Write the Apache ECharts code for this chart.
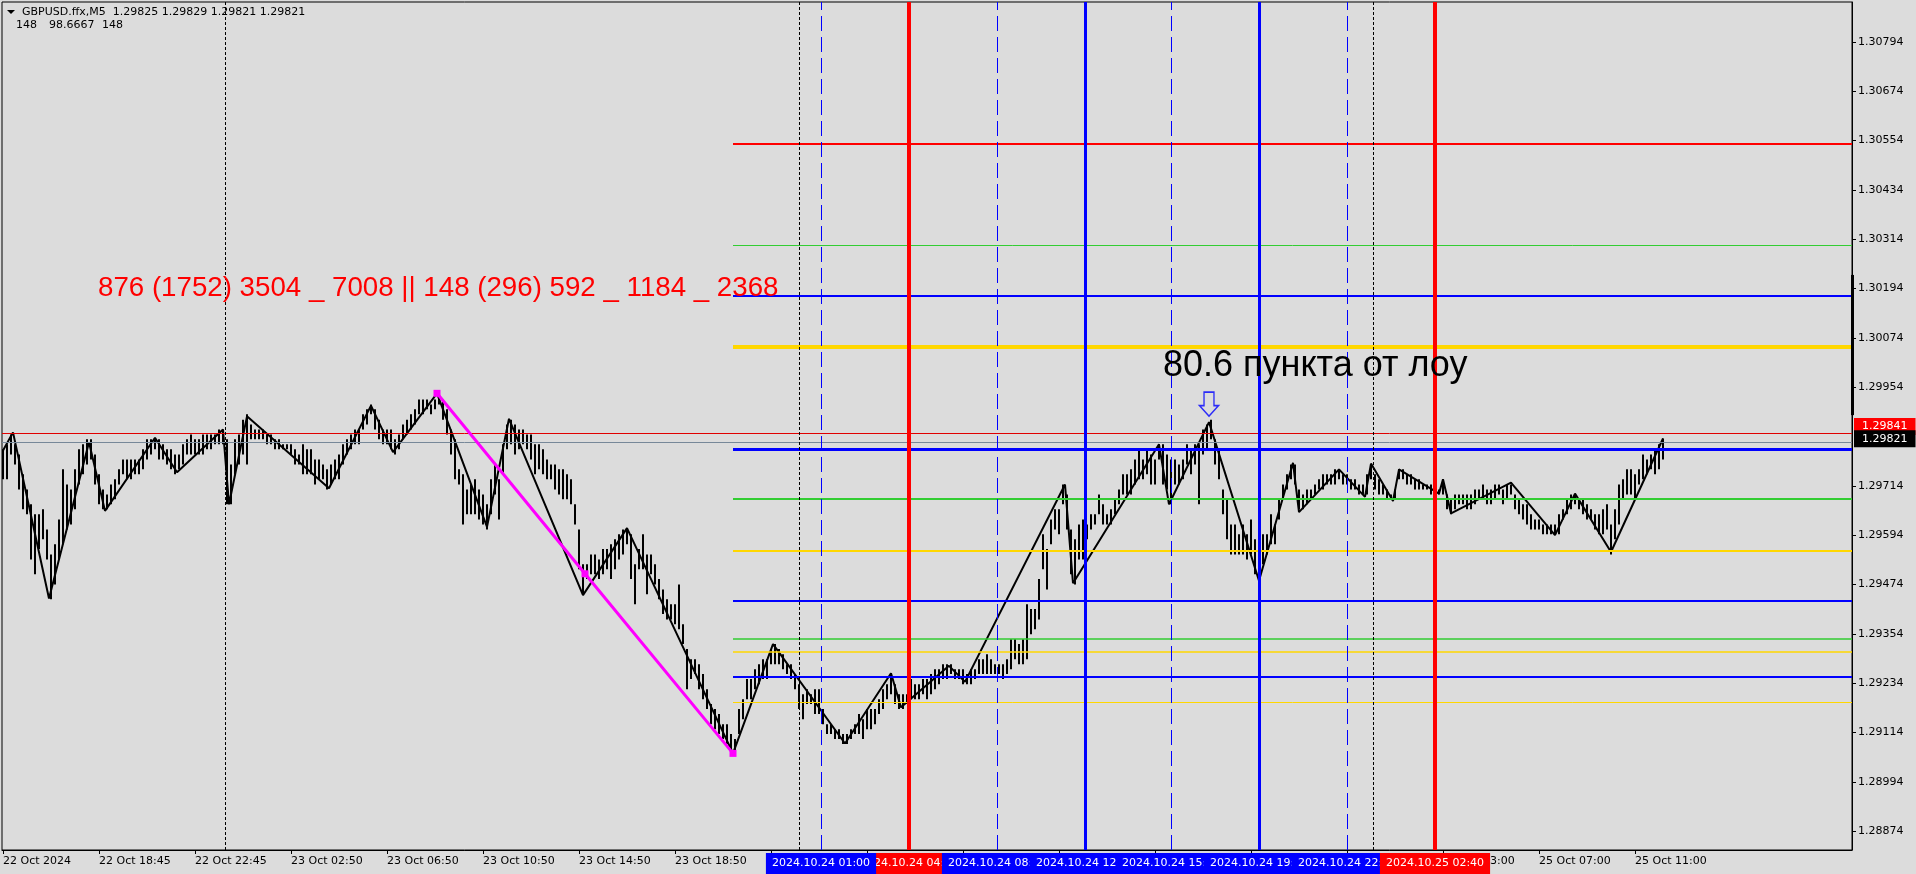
<!DOCTYPE html>
<html><head><meta charset="utf-8">
<script src="https://cdn.jsdelivr.net/npm/echarts@6.0.0/dist/echarts.min.js"></script>
<style>html,body{margin:0;padding:0;background:#DCDCDC;overflow:hidden}#c{width:1916px;height:874px}</style>
</head><body><div id="c"></div>
<script>
// ---------- data ----------
const barStep = 2; // bars sampled every 2nd M5 slot
const barHigh = [
1.29803,1.29815,1.29839,1.29815,1.29790,1.29742,1.29705,1.29669,1.29645,1.29645,
1.29657,1.29608,1.29547,1.29572,1.29632,1.29754,1.29717,1.29705,1.29754,1.29803,
1.29815,1.29827,1.29827,1.29790,1.29742,1.29705,1.29693,1.29717,1.29730,1.29754,
1.29778,1.29778,1.29778,1.29778,1.29778,1.29803,1.29827,1.29827,1.29827,1.29827,
1.29815,1.29803,1.29803,1.29790,1.29790,1.29815,1.29827,1.29839,1.29827,1.29827,
1.29839,1.29839,1.29839,1.29839,1.29851,1.29851,1.29827,1.29766,1.29827,1.29839,
1.29875,1.29888,1.29863,1.29851,1.29851,1.29851,1.29839,1.29839,1.29827,1.29827,
1.29815,1.29815,1.29815,1.29803,1.29790,1.29815,1.29803,1.29803,1.29778,1.29778,
1.29766,1.29754,1.29766,1.29778,1.29790,1.29815,1.29827,1.29839,1.29851,1.29851,
1.29888,1.29900,1.29912,1.29900,1.29875,1.29851,1.29851,1.29851,1.29827,1.29839,
1.29863,1.29875,1.29888,1.29900,1.29924,1.29924,1.29924,1.29912,1.29924,1.29936,
1.29924,1.29900,1.29851,1.29827,1.29754,1.29742,1.29705,1.29717,1.29730,1.29705,
1.29693,1.29669,1.29730,1.29766,1.29730,1.29815,1.29863,1.29875,1.29863,1.29851,
1.29851,1.29839,1.29839,1.29815,1.29815,1.29803,1.29778,1.29766,1.29766,1.29754,
1.29754,1.29742,1.29730,1.29669,1.29608,1.29523,1.29523,1.29547,1.29547,1.29535,
1.29560,1.29560,1.29572,1.29584,1.29596,1.29608,1.29608,1.29596,1.29523,1.29560,
1.29596,1.29547,1.29547,1.29523,1.29487,1.29462,1.29438,1.29426,1.29426,1.29474,
1.29377,1.29317,1.29292,1.29292,1.29280,1.29256,1.29219,1.29183,1.29171,1.29159,
1.29134,1.29134,1.29110,1.29098,1.29171,1.29195,1.29244,1.29244,1.29268,1.29280,
1.29292,1.29292,1.29317,1.29329,1.29317,1.29304,1.29280,1.29280,1.29256,1.29231,
1.29207,1.29219,1.29207,1.29219,1.29219,1.29171,1.29134,1.29134,1.29122,1.29122,
1.29110,1.29110,1.29122,1.29134,1.29159,1.29146,1.29171,1.29171,1.29171,1.29195,
1.29219,1.29231,1.29256,1.29231,1.29207,1.29207,1.29207,1.29244,1.29231,1.29231,
1.29244,1.29244,1.29256,1.29268,1.29268,1.29280,1.29280,1.29280,1.29268,1.29268,
1.29268,1.29256,1.29268,1.29268,1.29292,1.29292,1.29304,1.29292,1.29280,1.29280,
1.29280,1.29292,1.29341,1.29341,1.29329,1.29341,1.29426,1.29414,1.29414,1.29487,
1.29596,1.29560,1.29632,1.29657,1.29657,1.29717,1.29693,1.29608,1.29584,1.29620,
1.29632,1.29620,1.29645,1.29645,1.29693,1.29669,1.29645,1.29657,1.29681,1.29705,
1.29742,1.29742,1.29754,1.29778,1.29803,1.29778,1.29803,1.29790,1.29778,1.29815,
1.29815,1.29790,1.29778,1.29778,1.29766,1.29778,1.29815,1.29803,1.29815,1.29815,
1.29851,1.29863,1.29875,1.29827,1.29803,1.29705,1.29681,1.29620,1.29620,1.29596,
1.29620,1.29596,1.29632,1.29584,1.29547,1.29596,1.29596,1.29645,1.29620,1.29681,
1.29717,1.29742,1.29766,1.29766,1.29705,1.29693,1.29705,1.29705,1.29717,1.29730,
1.29742,1.29742,1.29742,1.29754,1.29754,1.29742,1.29742,1.29730,1.29730,1.29717,
1.29717,1.29742,1.29766,1.29742,1.29730,1.29717,1.29705,1.29693,1.29705,1.29754,
1.29754,1.29742,1.29742,1.29730,1.29730,1.29717,1.29717,1.29717,1.29705,1.29705,
1.29730,1.29693,1.29681,1.29693,1.29693,1.29693,1.29693,1.29693,1.29705,1.29705,
1.29717,1.29705,1.29705,1.29717,1.29717,1.29705,1.29717,1.29717,1.29693,1.29681,
1.29669,1.29669,1.29645,1.29632,1.29632,1.29620,1.29620,1.29620,1.29620,1.29645,
1.29657,1.29681,1.29693,1.29693,1.29681,1.29681,1.29669,1.29657,1.29645,1.29645,
1.29657,1.29669,1.29620,1.29657,1.29717,1.29730,1.29754,1.29754,1.29742,1.29754,
1.29790,1.29778,1.29790,1.29803,1.29815,1.29829];
const barLow = [
1.29730,1.29730,1.29790,1.29766,1.29705,1.29657,1.29645,1.29535,1.29499,1.29560,
1.29584,1.29535,1.29438,1.29474,1.29535,1.29572,1.29608,1.29620,1.29657,1.29717,
1.29742,1.29766,1.29778,1.29717,1.29669,1.29657,1.29657,1.29669,1.29681,1.29717,
1.29742,1.29730,1.29730,1.29742,1.29742,1.29754,1.29778,1.29790,1.29803,1.29778,
1.29778,1.29766,1.29754,1.29742,1.29754,1.29766,1.29790,1.29790,1.29790,1.29790,
1.29790,1.29803,1.29803,1.29815,1.29815,1.29815,1.29669,1.29669,1.29742,1.29766,
1.29790,1.29766,1.29827,1.29827,1.29827,1.29827,1.29815,1.29815,1.29803,1.29803,
1.29803,1.29803,1.29790,1.29766,1.29766,1.29742,1.29742,1.29742,1.29717,1.29730,
1.29730,1.29705,1.29717,1.29730,1.29730,1.29766,1.29790,1.29803,1.29815,1.29815,
1.29851,1.29863,1.29888,1.29851,1.29827,1.29815,1.29815,1.29803,1.29790,1.29803,
1.29827,1.29839,1.29851,1.29863,1.29888,1.29888,1.29900,1.29888,1.29900,1.29912,
1.29875,1.29839,1.29790,1.29730,1.29717,1.29620,1.29645,1.29645,1.29645,1.29632,
1.29620,1.29608,1.29645,1.29693,1.29632,1.29742,1.29803,1.29815,1.29790,1.29803,
1.29815,1.29803,1.29778,1.29742,1.29754,1.29742,1.29730,1.29730,1.29705,1.29693,
1.29681,1.29681,1.29669,1.29620,1.29511,1.29450,1.29487,1.29499,1.29499,1.29487,
1.29499,1.29511,1.29487,1.29511,1.29535,1.29547,1.29572,1.29487,1.29426,1.29511,
1.29511,1.29450,1.29499,1.29474,1.29438,1.29402,1.29389,1.29389,1.29377,1.29365,
1.29329,1.29219,1.29244,1.29256,1.29219,1.29195,1.29171,1.29134,1.29122,1.29110,
1.29098,1.29086,1.29074,1.29061,1.29110,1.29146,1.29195,1.29195,1.29219,1.29231,
1.29244,1.29244,1.29280,1.29280,1.29280,1.29268,1.29256,1.29244,1.29219,1.29171,
1.29146,1.29183,1.29183,1.29159,1.29159,1.29134,1.29110,1.29110,1.29098,1.29098,
1.29086,1.29086,1.29098,1.29110,1.29110,1.29098,1.29122,1.29122,1.29134,1.29159,
1.29171,1.29195,1.29207,1.29183,1.29171,1.29171,1.29183,1.29195,1.29195,1.29195,
1.29207,1.29195,1.29207,1.29219,1.29231,1.29244,1.29244,1.29256,1.29244,1.29244,
1.29231,1.29231,1.29231,1.29244,1.29256,1.29256,1.29256,1.29256,1.29256,1.29256,
1.29244,1.29256,1.29268,1.29292,1.29280,1.29280,1.29292,1.29353,1.29365,1.29389,
1.29511,1.29462,1.29572,1.29608,1.29596,1.29669,1.29608,1.29499,1.29474,1.29535,
1.29535,1.29584,1.29608,1.29620,1.29645,1.29620,1.29620,1.29620,1.29645,1.29669,
1.29693,1.29693,1.29693,1.29717,1.29730,1.29730,1.29742,1.29717,1.29717,1.29778,
1.29717,1.29705,1.29669,1.29717,1.29717,1.29730,1.29766,1.29742,1.29766,1.29669,
1.29790,1.29803,1.29827,1.29766,1.29730,1.29645,1.29584,1.29547,1.29547,1.29547,
1.29547,1.29535,1.29547,1.29499,1.29487,1.29523,1.29547,1.29572,1.29572,1.29632,
1.29681,1.29705,1.29730,1.29717,1.29657,1.29657,1.29669,1.29681,1.29693,1.29705,
1.29705,1.29717,1.29717,1.29717,1.29730,1.29717,1.29717,1.29705,1.29705,1.29693,
1.29693,1.29693,1.29730,1.29705,1.29693,1.29693,1.29681,1.29681,1.29681,1.29730,
1.29730,1.29717,1.29717,1.29705,1.29705,1.29705,1.29705,1.29693,1.29693,1.29693,
1.29693,1.29657,1.29645,1.29657,1.29669,1.29669,1.29657,1.29657,1.29669,1.29681,
1.29681,1.29669,1.29669,1.29681,1.29693,1.29669,1.29681,1.29693,1.29657,1.29645,
1.29632,1.29620,1.29608,1.29608,1.29608,1.29596,1.29596,1.29596,1.29596,1.29596,
1.29632,1.29645,1.29657,1.29669,1.29657,1.29645,1.29632,1.29632,1.29608,1.29596,
1.29596,1.29608,1.29547,1.29584,1.29620,1.29681,1.29693,1.29693,1.29681,1.29717,
1.29730,1.29742,1.29754,1.29742,1.29754,1.29778];

// zigzag vertices [slot, price]
const zigzag = [[0,1.29800],[5,1.29844],[23,1.29440],[43,1.29820],[51,1.29653],[76,1.29831],[87,1.29747],
[110,1.29851],[113,1.29669],[122,1.29883],[163,1.29708],[184,1.29909],[195,1.29796],[217,1.29939],
[242,1.29614],[253,1.29877],[290,1.29448],[312,1.29611],[365,1.29063],[385,1.29329],[421,1.29087],
[444,1.29258],[449,1.29175],[473,1.29276],[481,1.29237],[531,1.29717],[535,1.29477],[578,1.29815],
[583,1.29669],[603,1.29869],[628,1.29483],[645,1.29770],[648,1.29650],[668,1.29754],[681,1.29687],
[684,1.29768],[695,1.29677],[698,1.29754],[718,1.29695],[720,1.29730],[724,1.29647],[754,1.29722],
[776,1.29594],[786,1.29695],[804,1.29553],[830,1.29829]];
const magentaLine = [[217,1.29939],[291,1.29500],[365,1.29063]];

const levelStartSlot = 365;
const levelPrices = [1.30545,1.30300,1.30177,1.30053,1.29804,1.29683,1.29557,1.29434,1.29341,1.29310,1.29250,1.29187];
const highLinePrice = 1.29841;
const bidPrice = 1.29821;
const axisBarRange = [1.30227, 1.29886];
const arrowPoint = [603, 1.29869];

const separatorSlots = [111, 398, 685];
const dashSlots = [409, 497, 584, 672];
const blueSlots = [541, 628];
const redSlots = [453, 716];
// time labels of the vertical lines, in drawing order (later ones on top)
const boxSlots  = [453, 409, 497, 541, 584, 628, 672, 716];
const boxLabels = ['2024.10.24 04:40','2024.10.24 01:00','2024.10.24 08:20','2024.10.24 12:00',
                   '2024.10.24 15:40','2024.10.24 19:20','2024.10.24 22:55','2024.10.25 02:40'];

const timeSlots = [0,48,96,144,192,240,288,336,384,432,480,528,576,624,672,720,768,816];
const timeLabels = ['22 Oct 2024','22 Oct 18:45','22 Oct 22:45','23 Oct 02:50','23 Oct 06:50','23 Oct 10:50',
'23 Oct 14:50','23 Oct 18:50','23 Oct 22:50','24 Oct 02:50','24 Oct 06:50','24 Oct 10:50','24 Oct 14:50',
'24 Oct 18:50','24 Oct 22:50','25 Oct 03:00','25 Oct 07:00','25 Oct 11:00'];
const priceTicks = [1.28874,1.28994,1.29114,1.29234,1.29354,1.29474,1.29594,1.29714,1.29954,1.30074,1.30194,1.30314,1.30434,1.30554,1.30674,1.30794];

const headerTitle = 'GBPUSD.ffx,M5  1.29825 1.29829 1.29821 1.29821';
const headerInd = ['148', '98.6667', '148'];
const redNote = '876 (1752) 3504 _ 7008 || 148 (296) 592 _ 1184 _ 2368';
const blackNote = '80.6 пункта от лоу';

// ---------- styles ----------
const levelColors = ['#FF0000','#32CD32','#0000FF','#FFD700','#0000FF','#32CD32','#FFD700','#0000FF','#32CD32','#FFD700','#0000FF','#FFD700'];
const levelWidths = [2,1,2,4,3,2,2,2,1.5,1.5,2,1];
const FONT = 'DejaVu Sans';
const xMin = -0.5, xMax = 924.5, yMin = 1.28828, yMax = 1.30891;

const bars = barHigh.map((h, i) => [i * barStep, barLow[i], h]);

const chart = echarts.init(document.getElementById('c'), null, {renderer:'canvas'});
const vLines = [];
separatorSlots.forEach(s => vLines.push({xAxis:s, lineStyle:{color:'#000', width:1, type:[3,2]}}));
dashSlots.forEach(s => vLines.push({xAxis:s, lineStyle:{color:'#0000FF', width:1, type:[15,6]}}));
blueSlots.forEach(s => vLines.push({xAxis:s, lineStyle:{color:'#0000FF', width:3, type:'solid'}}));
redSlots.forEach(s => vLines.push({xAxis:s, lineStyle:{color:'#FF0000', width:4, type:'solid'}}));

function tagLine(price, lineColor, tagColor, dy) {
  return [{coord:[xMin, price], lineStyle:{color:lineColor, width:1, type:'solid'},
           label:{show:true, position:'end', distance:2, formatter:price.toFixed(5), color:'#fff', backgroundColor:tagColor,
                  padding:[2,8,2,8], fontFamily:FONT, fontSize:11, lineHeight:13, offset:[0,dy]}},
          {coord:[xMax, price]}];
}

const option = {
  animation:false,
  backgroundColor:'#DCDCDC',
  grid:{left:2, right:64, top:2, bottom:24, show:true, borderColor:'#000', borderWidth:1, backgroundColor:'transparent'},
  xAxis:{type:'value', min:xMin, max:xMax, position:'bottom', splitLine:{show:false},
   axisLine:{show:true, onZero:false, lineStyle:{color:'#000', width:1}},
   axisTick:{show:true, customValues:timeSlots, length:4, lineStyle:{color:'#000'}},
   axisLabel:{customValues:timeSlots, formatter:v => timeLabels[timeSlots.indexOf(v)], color:'#000',
     fontFamily:FONT, fontSize:11, align:'left', margin:6, hideOverlap:false, showMinLabel:true, showMaxLabel:true}},
  yAxis:{type:'value', position:'right', min:yMin, max:yMax, splitLine:{show:false},
    axisLine:{show:true, onZero:false, lineStyle:{color:'#000', width:1}},
    axisTick:{show:true, customValues:priceTicks, length:4, lineStyle:{color:'#000'}},
    axisLabel:{customValues:priceTicks, formatter:v => v.toFixed(5), color:'#000', fontFamily:FONT, fontSize:11, margin:6,
      showMinLabel:true, showMaxLabel:true}},
  series:[
    {type:'line', data:[], z:2, silent:true,
     markLine:{symbol:['none','none'], silent:true, animation:false, label:{show:false},
       data: levelPrices.map((p,i) => [{coord:[levelStartSlot,p], lineStyle:{color:levelColors[i], width:levelWidths[i], type:'solid'}},{coord:[xMax,p]}])}},
    {type:'line', data:[], z:2, silent:true,
     markLine:{symbol:['none','none'], silent:true, animation:false,
       data:[tagLine(highLinePrice, '#E00000', '#FF0000', -7), tagLine(bidPrice, '#778899', '#000000', -3)]}},
    {type:'custom', z:3, silent:true, data:bars, encode:{x:0, y:[1,2]},
     renderItem:(params, api) => {
       const a = api.coord([api.value(0), api.value(1)]);
       const b = api.coord([api.value(0), api.value(2)]);
       const px = Math.round(a[0]);
       return {type:'line', shape:{x1:px, y1:a[1], x2:px, y2:b[1]}, style:{stroke:'#000', lineWidth:2}};
     }},
    {type:'line', data:zigzag, z:4, silent:true, symbol:'none', lineStyle:{color:'#000', width:2}},
    {type:'line', data:magentaLine, z:5, silent:true, symbol:'rect', symbolSize:7, showAllSymbol:true,
     itemStyle:{color:'#FF00FF'}, lineStyle:{color:'#FF00FF', width:3}},
    {type:'scatter', data:[arrowPoint], z:6, silent:true,
     symbol:'path://M5,0 L16,0 L16,14 L21,14 L10.5,25 L0,14 L5,14 Z', symbolSize:[19,24], symbolOffset:[0,-18],
     itemStyle:{color:'rgba(0,0,0,0)', borderColor:'#0000FF', borderWidth:1.5}},
    {type:'line', data:[], z:7, silent:true,
     markLine:{symbol:['none','none'], silent:true, animation:false, label:{show:false}, data:vLines}},
    {type:'line', data:[], z:8, silent:true,
     markLine:{symbol:['none','none'], silent:true, animation:false, label:{show:false},
       data:[[{coord:[xMax, axisBarRange[0]], lineStyle:{color:'#000', width:3, type:'solid'}},{coord:[xMax, axisBarRange[1]]}]]}},
    // time labels of the vertical lines, drawn on the time scale below the plot
    {type:'custom', z:9, silent:true, clip:false, data:boxSlots.map((s, i) => [s, i]), encode:{x:0},
     renderItem:(params, api) => {
       const i = api.value(1);
       const p = api.coord([api.value(0), yMin]);
       const col = redSlots.indexOf(api.value(0)) >= 0 ? '#FF0000' : '#0000FF';
       return {type:'text', x:Math.round(p[0]), y:p[1] + 3, z2:i,
         style:{text:boxLabels[i], fill:'#fff', backgroundColor:col, padding:[4,6,4,6],
                font:'11px "DejaVu Sans"', lineHeight:13, align:'center', verticalAlign:'top'}};
     }}
  ],
  graphic:[
    {type:'polygon', z:100, shape:{points:[[7,10],[15,10],[11,14]]}, style:{fill:'#000'}},
    {type:'text', z:100, x:22, y:12, style:{text:headerTitle, fill:'#000', font:'11px "DejaVu Sans"', align:'left', verticalAlign:'middle'}},
    {type:'text', z:100, x:16, y:25, style:{text:headerInd[0], fill:'#000', font:'11px "DejaVu Sans"', align:'left', verticalAlign:'middle'}},
    {type:'text', z:100, x:49, y:25, style:{text:headerInd[1], fill:'#000', font:'11px "DejaVu Sans"', align:'left', verticalAlign:'middle'}},
    {type:'text', z:100, x:102, y:25, style:{text:headerInd[2], fill:'#000', font:'11px "DejaVu Sans"', align:'left', verticalAlign:'middle'}},
    {type:'text', z:100, x:98, y:288, style:{text:redNote, fill:'#FF0000', font:'27.7px "Liberation Sans"', align:'left', verticalAlign:'middle'}},
    {type:'text', z:100, x:1163, y:366, style:{text:blackNote, fill:'#000', font:'36px "Liberation Sans"', align:'left', verticalAlign:'middle'}}
  ]
};
chart.setOption(option);
</script></body></html>
